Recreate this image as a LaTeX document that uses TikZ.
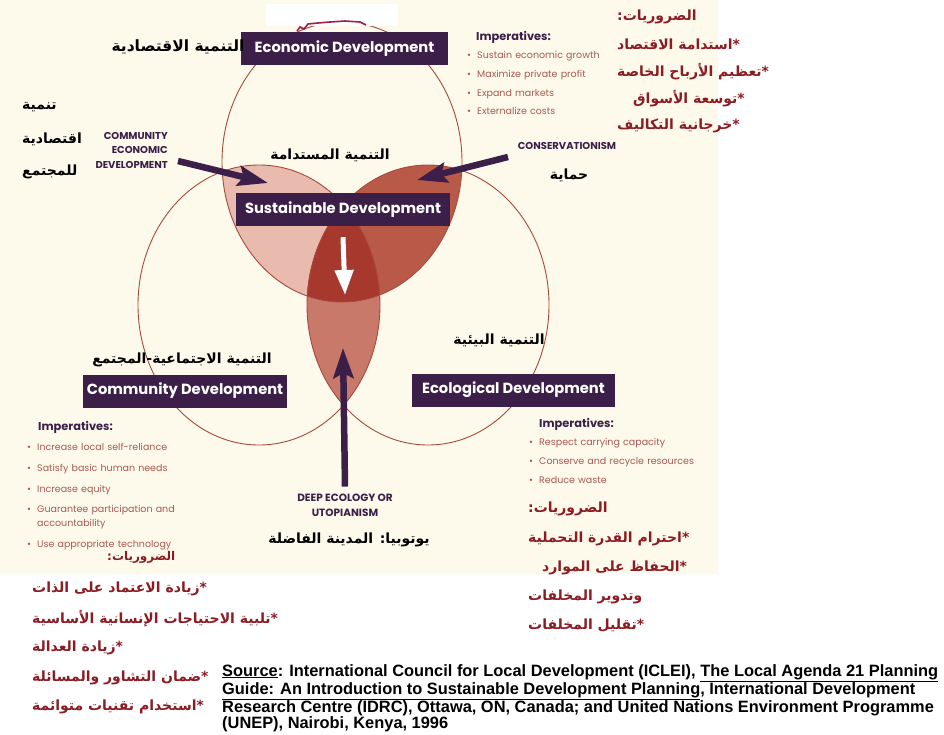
\documentclass[tikz,border=0pt]{standalone}
\usepackage{fontspec}
\setmainfont{Liberation Sans}
\setsansfont{Poppins}
\newfontfamily\arabicfont[Script=Arabic]{DejaVu Sans}
\TeXXeTstate=1
\usetikzlibrary{arrows.meta, positioning}

\definecolor{plum}{RGB}{59, 31, 72}
\definecolor{cream}{RGB}{253, 250, 236}
\definecolor{rimred}{RGB}{166, 74, 60}
\definecolor{pinkzone}{RGB}{233, 186, 174}
\definecolor{rustzone}{RGB}{185, 90, 72}
\definecolor{corezone}{RGB}{166, 56, 46}
\definecolor{lenszone}{RGB}{201, 121, 106}
\definecolor{itemred}{RGB}{168, 88, 82}
\definecolor{arred}{RGB}{140, 28, 36}
\definecolor{scribble}{RGB}{158, 31, 79}

\newcommand{\artxt}[1]{{\arabicfont\bfseries\beginR #1\endR}}
\newcommand{\arstar}[1]{\artxt{#1}{\arabicfont\bfseries *}}
\newcommand{\impbullet}{\makebox[10pt][l]{\textbullet}}

\tikzset{
	devbox/.style={rectangle, fill=plum, text=white, inner sep=0pt, minimum height=33pt, font=\sffamily\bfseries\fontsize{14.7}{16}\selectfont},
	capslabel/.style={inner sep=0pt, text=plum, font=\sffamily\bfseries\fontsize{10}{14.5}\selectfont},
	arlabel/.style={inner sep=0pt, text=black, font=\fontsize{14}{16}\selectfont},
	arlist/.style={inner sep=0pt, anchor=west, text=arred, font=\fontsize{14}{16}\selectfont},
	imphead/.style={inner sep=0pt, anchor=west, text=plum, font=\sffamily\bfseries\fontsize{11.4}{13}\selectfont},
	impitem/.style={inner sep=0pt, text width=200pt, align=left, text height=7pt, text depth=2.5pt, text=itemred, font=\sffamily\fontsize{9.5}{14}\selectfont},
	rim/.style={draw=rimred, line width=0.9pt},
	bigarrow/.style={draw=plum, line width=6.5pt, -{Stealth[length=30pt, width=20pt, inset=5pt]}},
	whitearrow/.style={draw=white, line width=5pt, -{Triangle[length=25pt, width=18pt]}},
	srcnote/.style={inner sep=0pt, align=left, font=\rmfamily\bfseries\fontsize{16.4}{16}\selectfont},
}

\begin{document}
\begin{tikzpicture}[x=1pt, y=-1pt, node distance=9pt]
	\useasboundingbox (0,0) rectangle (944,734);
	\fill[white] (0,0) rectangle (944,734);
	\fill[cream] (0,0) rectangle (718,574);

	% the three circles
	\coordinate (econc) at (342,162);
	\coordinate (commc) at (259,305);
	\coordinate (ecoc) at (428,305);
	\begin{scope}
		\clip (commc) ellipse [x radius=121pt, y radius=140pt];
		\fill[lenszone] (ecoc) ellipse [x radius=121pt, y radius=140pt];
	\end{scope}
	\begin{scope}
		\clip (econc) ellipse [x radius=120pt, y radius=140pt];
		\fill[pinkzone] (commc) ellipse [x radius=121pt, y radius=140pt];
		\fill[rustzone] (ecoc) ellipse [x radius=121pt, y radius=140pt];
		\clip (commc) ellipse [x radius=121pt, y radius=140pt];
		\fill[corezone] (ecoc) ellipse [x radius=121pt, y radius=140pt];
	\end{scope}
	\draw[rim] (econc) ellipse [x radius=120pt, y radius=140pt];
	\draw[rim] (commc) ellipse [x radius=121pt, y radius=140pt];
	\draw[rim] (ecoc) ellipse [x radius=121pt, y radius=140pt];

	% scan marks above the top box
	\fill[white] (266,4) rectangle (398,26);
	\draw[scribble, line width=1.6pt] (297,31) -- (300,27) -- (304,29) -- (308,24) -- (318,23) -- (330,22) -- (345,21) -- (360,22) -- (366,25);

	% title boxes
	\node[devbox, minimum width=207pt] (econ) at (344.5,48.5) {Economic Development};
	\node[devbox, minimum width=214pt] (sust) at (343,209.5) {Sustainable Development};
	\node[devbox, minimum width=204pt] (comm) at (185,391) {Community Development};
	\node[devbox, minimum width=203pt] (eco) at (513.5,390) {Ecological Development};

	% arabic captions
	\node[arlabel, font=\fontsize{15.5}{17}\selectfont] (econar) at (178,47) {\artxt{التنمية الاقتصادية}};
	\node[arlabel, anchor=west] (cedar1) at (22,107) {\artxt{تنمية}};
	\node[arlabel, anchor=west] (cedar2) at (22,139) {\artxt{اقتصادية}};
	\node[arlabel, anchor=west] (cedar3) at (22,172) {\artxt{للمجتمع}};
	\node[arlabel] (sustar) at (330,155) {\artxt{التنمية المستدامة}};
	\node[arlabel] (consar) at (569,175) {\artxt{حماية}};
	\node[arlabel] (commar) at (182,360) {\artxt{التنمية الاجتماعية-المجتمع}};
	\node[arlabel] (ecoar) at (499,340) {\artxt{التنمية البيئية}};
	\node[arlabel] (utopar) at (349,540) {\artxt{يوتوبيا: المدينة الفاضلة}};

	% approaches
	\node[capslabel, align=right, anchor=east] (ced) at (168,150) {COMMUNITY\\ECONOMIC\\DEVELOPMENT};
	\node[capslabel] (cons) at (567,146) {CONSERVATIONISM};
	\node[capslabel, align=center, font=\sffamily\bfseries\fontsize{10.5}{15}\selectfont] (deep) at (345,505) {DEEP ECOLOGY OR\\UTOPIANISM};

	\coordinate (cedtail) at (178,161);
	\coordinate (cedtip) at (268,183);
	\coordinate (constail) at (508,157);
	\coordinate (constip) at (417,180);
	\coordinate (deeptip) at (343,348);
	\coordinate (susttip) at (345,295);
	\draw[bigarrow] (cedtail) -- (cedtip);
	\draw[bigarrow] (constail) -- (constip);
	\draw[bigarrow] ([yshift=7pt]deep.north) -- (deeptip);
	\draw[whitearrow] ([yshift=-11pt]sust.south) -- (susttip);

	% imperatives, economic
	\node[imphead] (econimp) at (476,37) {Imperatives:};
	\node[impitem, anchor=west] (econi1) at (467,56) {\impbullet Sustain economic growth};
	\node[impitem, below=of econi1] (econi2) {\impbullet Maximize private profit};
	\node[impitem, below=of econi2] (econi3) {\impbullet Expand markets};
	\node[impitem, below=of econi3] (econi4) {\impbullet Externalize costs};

	% imperatives, community
	\node[imphead] (commimp) at (38,427) {Imperatives:};
	\node[impitem, anchor=west] (commi1) at (27,448) {\impbullet Increase local self-reliance};
	\node[impitem, below=11pt of commi1] (commi2) {\impbullet Satisfy basic human needs};
	\node[impitem, below=11pt of commi2] (commi3) {\impbullet Increase equity};
	\node[impitem, below=11pt of commi3, text depth=16.5pt] (commi4) {\impbullet Guarantee participation and\\\hspace*{10pt}accountability};
	\node[impitem, below=11pt of commi4] (commi5) {\impbullet Use appropriate technology};

	% imperatives, ecological
	\node[imphead] (ecoimp) at (539,424) {Imperatives:};
	\node[impitem, anchor=west] (ecoi1) at (529,443) {\impbullet Respect carrying capacity};
	\node[impitem, below=of ecoi1] (ecoi2) {\impbullet Conserve and recycle resources};
	\node[impitem, below=of ecoi2] (ecoi3) {\impbullet Reduce waste};

	% arabic imperatives
	\begin{scope}[every node/.append style={font=\fontsize{13}{15}\selectfont}]
		\node[arlist] (econar0) at (617,17) {\artxt{الضروريات:}};
		\node[arlist] (econar1) at (617,44) {\arstar{استدامة الاقتصاد}};
		\node[arlist] (econar2) at (617,72) {\arstar{تعظيم الأرباح الخاصة}};
		\node[arlist] (econar3) at (633,99) {\arstar{توسعة الأسواق}};
		\node[arlist] (econar4) at (617,126) {\arstar{خرجانية التكاليف}};
	\end{scope}

	\node[arlist, font=\fontsize{12}{14}\selectfont] (commar0) at (107,557) {\artxt{الضروريات:}};
	\node[arlist] (commar1) at (32,589) {\arstar{زيادة الاعتماد على الذات}};
	\node[arlist] (commar2) at (32,619) {\arstar{تلبية الاحتياجات الإنسانية الأساسية}};
	\node[arlist] (commar3) at (32,648) {\arstar{زيادة العدالة}};
	\node[arlist] (commar4) at (32,678) {\arstar{ضمان التشاور والمسائلة}};
	\node[arlist] (commar5) at (32,707) {\arstar{استخدام تقنيات متوائمة}};

	\begin{scope}[every node/.append style={font=\fontsize{13.5}{15}\selectfont}]
		\node[arlist] (ecoar0) at (528,509) {\artxt{الضروريات:}};
		\node[arlist] (ecoar1) at (528,539) {\arstar{احترام القدرة التحملية}};
		\node[arlist] (ecoar2) at (542,568) {\arstar{الحفاظ على الموارد}};
		\node[arlist] (ecoar3) at (528,597) {\artxt{وتدوير المخلفات}};
		\node[arlist] (ecoar4) at (528,625) {\arstar{تقليل المخلفات}};
	\end{scope}

	% source
	\node[srcnote, anchor=north west] (src) at (222,664) {\underline{Source}: International Council for Local Development (ICLEI), \underline{The Local Agenda 21 Planning}\\\underline{Guide: An Introduction to Sustainable Development Planning}, International Development\\Research Centre (IDRC), Ottawa, ON, Canada; and United Nations Environment Programme\\(UNEP), Nairobi, Kenya, 1996};
\end{tikzpicture}
\end{document}
